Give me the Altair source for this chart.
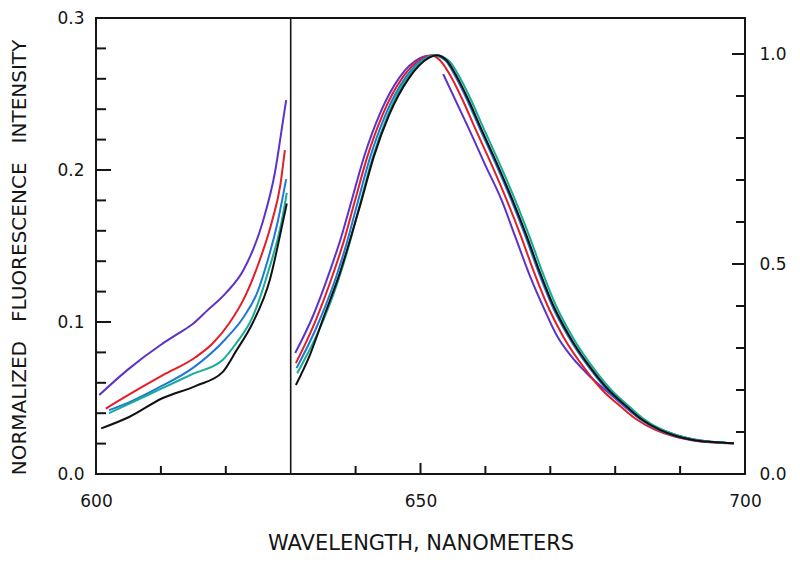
import altair as alt
import pandas as pd

# ---------------- data ----------------
series_names = ["purple", "red", "blue", "teal", "black"]
series_colors = ["#5b33c9", "#e41e26", "#1f78d6", "#16ad95", "#111111"]

# Left panel: 600-630 nm, left axis (0 - 0.3)
purple_l_nm = [600.5, 605, 610, 612.5, 615, 617, 620, 622.7, 625.7, 627.6, 628.8, 629.3]
purple_l_v = [0.052, 0.069, 0.085, 0.092, 0.099, 0.107, 0.119, 0.134, 0.166, 0.199, 0.232, 0.246]
red_l_nm = [601.5, 605, 610.3, 615.4, 618, 620.5, 623.1, 625, 627.1, 628.4, 629.1]
red_l_v = [0.043, 0.052, 0.065, 0.077, 0.086, 0.099, 0.118, 0.138, 0.166, 0.19, 0.213]
blue_l_nm = [602, 605, 610, 615, 620, 622.7, 625, 626, 628, 629.3]
blue_l_v = [0.042, 0.047, 0.0576, 0.070, 0.089, 0.103, 0.121, 0.134, 0.166, 0.194]
teal_l_nm = [602, 605, 610, 615, 619.5, 621.6, 624.1, 626.6, 628.6, 629.4]
teal_l_v = [0.040, 0.046, 0.056, 0.066, 0.075, 0.086, 0.103, 0.134, 0.166, 0.185]
black_l_nm = [600.8, 605.1, 610.3, 615.4, 619.5, 621.6, 624.1, 626.8, 628.8, 629.4]
black_l_v = [0.030, 0.0375, 0.050, 0.058, 0.067, 0.081, 0.099, 0.128, 0.166, 0.178]

# Right panel: 630-700 nm, right axis (normalized to 1.0)
# purple is drawn in two pieces (it breaks just after the peak)
purple_r1_nm = [630.7, 633.4, 636.1, 637.8, 639.4, 641.4, 643.8, 646.8, 649.9, 651.0]
purple_r1_v = [0.288, 0.375, 0.486, 0.565, 0.652, 0.76, 0.86, 0.945, 0.99, 0.996]
purple_r2_nm = [653.5, 657.3, 660, 662.5, 664.6, 666.9, 669, 671, 673, 675.6,
                679.7, 682.7, 685.8, 689, 692, 695, 698.3]
purple_r2_v = [0.952, 0.827, 0.735, 0.652, 0.565, 0.47, 0.395, 0.33, 0.285, 0.240,
               0.184, 0.145, 0.115, 0.095, 0.083, 0.077, 0.073]
red_r_nm = [630.8, 633.7, 636.5, 638.2, 639.8, 641.8, 644.2, 647.2, 650.3, 651.6,
            653, 654.7, 656.6, 658.3, 660.8, 663.4, 665.5, 667.5, 669.6, 672, 675.6,
            678, 680.9, 683.2, 686.2, 689, 691.6, 695, 698.3]
red_r_v = [0.264, 0.36, 0.475, 0.555, 0.645, 0.755, 0.857, 0.943, 0.99, 0.997,
           0.985, 0.946, 0.887, 0.827, 0.742, 0.648, 0.565, 0.48, 0.40, 0.327, 0.245,
           0.2, 0.16, 0.131, 0.105, 0.09, 0.081, 0.075, 0.073]
blue_r_nm = [630.9, 634, 636.9, 638.6, 640.2, 642.2, 644.6, 647.6, 650.7, 652,
             653.8, 655.4, 657.3, 659.0, 661.5, 664.1, 666.2, 668.2, 670.3, 672.8, 676.4,
             678.8, 681.6, 683.8, 686.7, 689.4, 691.9, 695, 698.3]
blue_r_v = [0.252, 0.35, 0.465, 0.548, 0.64, 0.752, 0.855, 0.942, 0.99, 0.997,
            0.985, 0.946, 0.887, 0.827, 0.742, 0.648, 0.565, 0.48, 0.40, 0.327, 0.245,
            0.2, 0.16, 0.131, 0.105, 0.09, 0.081, 0.076, 0.073]
teal_r_nm = [631, 634.3, 637.2, 638.9, 640.5, 642.5, 644.9, 647.9, 651, 652.3,
             654.3, 656, 657.9, 659.6, 662.1, 664.7, 666.8, 668.8, 670.9, 673.4, 677,
             679.4, 682.2, 684.4, 687.3, 690, 692.5, 695.2, 698.3]
teal_r_v = [0.240, 0.34, 0.455, 0.54, 0.632, 0.747, 0.852, 0.942, 0.99, 0.997,
            0.985, 0.946, 0.887, 0.827, 0.742, 0.648, 0.565, 0.48, 0.40, 0.327, 0.245,
            0.2, 0.16, 0.131, 0.105, 0.09, 0.081, 0.076, 0.073]
black_r_nm = [630.8, 633, 635, 637.6, 639.2, 640.8, 642.8, 645.2, 648.2, 651.2, 652.5,
              654, 655.6, 657.5, 659.2, 661.7, 664.3, 666.4, 668.4, 670.5, 673, 676.6,
              679, 681.8, 684, 686.9, 689.5, 692, 695, 698.3]
black_r_v = [0.212, 0.285, 0.37, 0.48, 0.56, 0.645, 0.755, 0.856, 0.942, 0.99, 0.997,
             0.985, 0.946, 0.887, 0.827, 0.742, 0.648, 0.565, 0.48, 0.40, 0.327, 0.245,
             0.2, 0.16, 0.131, 0.105, 0.09, 0.081, 0.076, 0.073]

# tick positions
x_minor_ticks = [610, 620, 640, 660, 670, 680, 690]
x_major_ticks = [650]
x_labels = [600, 650, 700]
left_minor_ticks = [0.02, 0.04, 0.06, 0.08, 0.12, 0.14, 0.16, 0.18, 0.22, 0.24, 0.26, 0.28]
left_major_ticks = [0.1, 0.2]
left_labels = [0.0, 0.1, 0.2, 0.3]
right_minor_ticks = [0.1, 0.2, 0.3, 0.4, 0.6, 0.7, 0.8, 0.9]
right_major_ticks = [0.5, 1.0]
right_labels = [0.0, 0.5, 1.0]
divider_nm = [630]

# ---------------- build tables ----------------
def long(parts):
    rows = []
    for name, seg, xs, ys in parts:
        for i, (a, b) in enumerate(zip(xs, ys)):
            rows.append({"series": name, "seg": seg, "nm": a, "val": b, "i": i})
    return pd.DataFrame(rows)

left_df = long([("purple", "p", purple_l_nm, purple_l_v), ("red", "r", red_l_nm, red_l_v),
                ("blue", "b", blue_l_nm, blue_l_v), ("teal", "t", teal_l_nm, teal_l_v),
                ("black", "k", black_l_nm, black_l_v)])
right_df = long([("purple", "p1", purple_r1_nm, purple_r1_v),
                 ("purple", "p2", purple_r2_nm, purple_r2_v),
                 ("red", "r", red_r_nm, red_r_v),
                 ("blue", "b", blue_r_nm, blue_r_v), ("teal", "t", teal_r_nm, teal_r_v),
                 ("black", "k", black_r_nm, black_r_v)])

W, H = 649, 456
FONT = "DejaVu Sans"
INK = "#151515"
GAP = "\u00a0" * 3

x_scale = alt.Scale(domain=[600, 700], nice=False, zero=False)
x_axis = alt.Axis(values=x_labels, ticks=False, domain=False, grid=False,
                  labelFlush=False, labelPadding=19, labelFontSize=17, labelFont=FONT,
                  labelColor=INK, title="WAVELENGTH, NANOMETERS", titleFont=FONT,
                  titleFontSize=21, titleFontWeight="normal", titleColor=INK,
                  titlePadding=23)
left_scale = alt.Scale(domain=[0, 0.3], nice=False, zero=True)
right_scale = alt.Scale(domain=[0, 456 / 420], nice=False, zero=True)

left_axis = alt.Axis(orient="left", values=left_labels, format=".1f", ticks=False,
                     domain=False, grid=False, labelPadding=12, labelFontSize=17,
                     labelFont=FONT, labelColor=INK,
                     title="NORMALIZED" + GAP + "FLUORESCENCE" + GAP + "INTENSITY",
                     titleFont=FONT, titleFontSize=20, titleFontWeight="normal",
                     titleColor=INK, titlePadding=27, titleY=239)
right_axis = alt.Axis(orient="right", values=right_labels, format=".1f", ticks=False,
                      domain=False, grid=False, labelPadding=14, labelFontSize=17,
                      labelFont=FONT, labelColor=INK, title=None)

color = alt.Color("series:N", scale=alt.Scale(domain=series_names, range=series_colors), legend=None)

frame = alt.Chart(pd.DataFrame({"f": [0]})).mark_rect(
    fill=None, fillOpacity=0, stroke=INK, strokeWidth=2).encode(
    x=alt.value(0), x2=alt.value(W), y=alt.value(0), y2=alt.value(H))

left_lines = alt.Chart(left_df).mark_line(strokeWidth=2, interpolate="monotone").encode(
    x=alt.X("nm:Q", scale=x_scale, axis=x_axis),
    y=alt.Y("val:Q", scale=left_scale, axis=left_axis),
    color=color, detail="seg:N", order="i:Q",
)

def xticks(vals, length):
    return alt.Chart(pd.DataFrame({"t": vals})).mark_rule(color=INK, strokeWidth=2).encode(
        x=alt.X("t:Q", scale=x_scale, axis=x_axis),
        y=alt.value(H), y2=alt.value(H - length))

def lticks(vals, length):
    return alt.Chart(pd.DataFrame({"t": vals})).mark_rule(color=INK, strokeWidth=2).encode(
        y=alt.Y("t:Q", scale=left_scale, axis=left_axis),
        x=alt.value(0), x2=alt.value(length))

def rticks(vals, length):
    return alt.Chart(pd.DataFrame({"t": vals})).mark_rule(color=INK, strokeWidth=2).encode(
        y=alt.Y("t:Q", scale=right_scale, axis=right_axis),
        x=alt.value(W - length), x2=alt.value(W))

divider = alt.Chart(pd.DataFrame({"d": divider_nm})).mark_rule(color=INK, strokeWidth=1.6).encode(
    x=alt.X("d:Q", scale=x_scale, axis=x_axis),
    y=alt.value(0), y2=alt.value(H))

left_layer = alt.layer(left_lines, lticks(left_minor_ticks, 10), lticks(left_major_ticks, 15),
                       xticks(x_minor_ticks, 8), xticks(x_major_ticks, 11), divider, frame)

right_lines = alt.Chart(right_df).mark_line(strokeWidth=2, interpolate="monotone").encode(
    x=alt.X("nm:Q", scale=x_scale, axis=x_axis),
    y=alt.Y("val:Q", scale=right_scale, axis=right_axis),
    color=color, detail="seg:N", order="i:Q",
)
right_layer = alt.layer(right_lines, rticks(right_minor_ticks, 9), rticks(right_major_ticks, 13))

chart = alt.layer(left_layer, right_layer).resolve_scale(y="independent").properties(
    width=W, height=H,
    padding={"left": 88, "top": 10, "right": 47, "bottom": 80},
    autosize=alt.AutoSizeParams(type="none"),
    background="white",
).configure_view(stroke=None)

chart.save("out.html", embed_options={"renderer": "svg", "actions": False})
